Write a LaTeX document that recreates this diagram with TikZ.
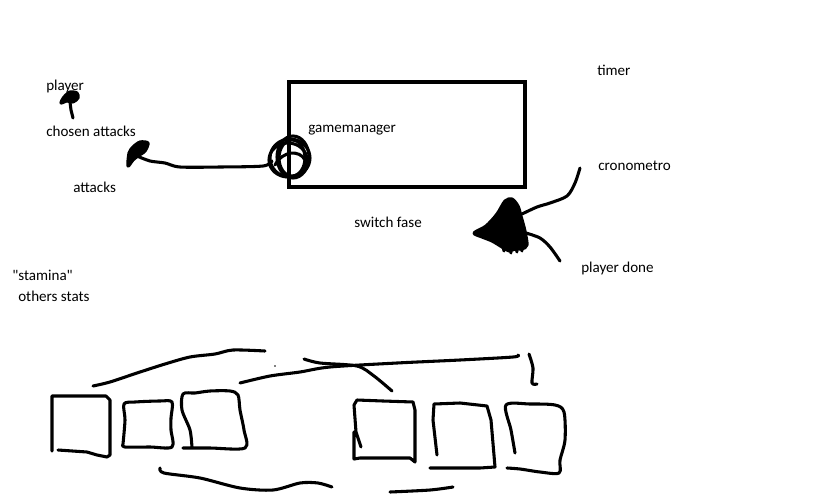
\documentclass[tikz,border=0pt]{standalone}
\usepackage{fontspec}
\setmainfont{Carlito}[Ligatures=TeXOff]
\begin{document}
\begin{tikzpicture}[x=0.75pt,y=-0.75pt,
  pen/.style={line width=2.3pt,line cap=round,line join=round},
  blob/.style={pen,fill=black},
  lbl/.style={anchor=west,inner sep=0pt,font=\fontsize{11.3}{13}\selectfont,text=black}]
\useasboundingbox (0,0) rectangle (835,493);
% labels
\node[lbl] (player) at (46,86) {player};
\node[lbl] (chosen) at (46,131) {chosen attacks};
\node[lbl] (attacks) at (73,187) {attacks};
\node[lbl] (gm) at (308,130) {gamemanager};
\node[lbl] (timer) at (597,70) {timer};
\node[lbl] (crono) at (598,166) {cronometro};
\node[lbl] (switch) at (354,222) {switch fase};
\node[lbl] (pdone) at (581,268) {player done};
\node[lbl] (stamina) at (12,275) {"stamina"};
\node[lbl] (others) at (18,296) {others stats};
% game manager box
\draw[line width=3.6pt] (289,82) rectangle (525,187);
% player arrow
\draw[blob] plot[smooth cycle] coordinates {(61,103) (64,97) (70,92) (77,93) (78,98) (73,102) (67,101)};
\draw[pen] (70,102) -- (71,110) -- (73,118);
% attacks arrow
\draw[blob] plot[smooth cycle] coordinates {(128,166) (129,153) (133,147) (140,142) (148,143) (145,151) (138,156) (133,160)};
\draw[pen] plot[smooth] coordinates {(137,156) (150,161) (165,163) (180,167) (220,167) (263,166) (272,161)};
% scribbled circle
\draw[pen] (290,158) ellipse (20 and 19);
\draw[pen] (293,157) ellipse (16 and 21);
\draw[pen] (288,160) ellipse (19 and 17);
\draw[pen] (292,158) ellipse (13 and 18);
\draw[pen] (275,165) .. controls (283,150) and (300,150) .. (305,160);
% switch blob
\draw[blob] plot[smooth cycle] coordinates {(474,233) (486,226) (497,214) (505,201) (512,199) (518,206) (521,216) (525,231) (527,245) (522,249) (515,249) (509,251) (502,247) (492,241) (482,237)};
\draw[pen] (503,246) -- (504,251);
\draw[pen] (510,248) -- (511,253);
\draw[pen] (516,247) -- (517,252);
\draw[pen] (521,246) -- (522,251);
\draw[pen] plot[smooth] coordinates {(522,214) (537,207) (550,203) (567,196) (575,183) (580,168)};
\draw[pen] plot[smooth] coordinates {(526,233) (540,238) (550,247) (560,261)};
% top curves
\draw[pen] plot[smooth] coordinates {(93,386) (110,382) (137,373) (165,364) (190,357) (215,354) (233,350) (265,351)};
\draw[pen] plot[smooth] coordinates {(240,383) (270,376) (300,372) (330,367) (397,363) (460,360) (513,357) (518,355)};
\draw[pen] plot[smooth] coordinates {(304,359) (320,363) (357,366) (374,376) (392,391)};
\draw[pen] plot[smooth] coordinates {(529,354) (533,368) (532,383) (537,384)};
\fill (275,366) circle (0.8);
% squares left group
\draw[pen] (58,450) -- (87,452) -- (97,455) -- (107,457) -- (110,455) -- (110,400) -- (106,396) -- (52,396) -- (52,451);
\draw[pen] plot[smooth] coordinates {(123,444) (125,447) (150,447) (172,447) (171,430) (171,418) (172,402) (160,401) (135,402) (124,404) (125,420) (123,444)};
\draw[pen] plot[smooth] coordinates {(183,448) (210,448) (245,448) (244,430) (240,410) (238,395) (230,391) (210,391) (195,393) (183,394) (182,410) (190,430) (192,448)};
% squares right group
\draw[pen] (361,447) -- (356,432) -- (354,405) -- (357,400) -- (383,401) -- (413,402) -- (415,410) -- (415,462) -- (410,458) -- (360,458) -- (354,459) -- (354,432);
\draw[pen] (437,455) -- (433,420) -- (434,404) -- (460,403) -- (487,406) -- (491,420) -- (495,467) -- (480,468) -- (430,468);
\draw[pen] plot[smooth] coordinates {(515,453) (511,430) (506,405) (530,404) (555,405) (564,412) (565,440) (560,460) (559,473) (540,472) (520,469) (507,468)};
% bottom curves
\draw[pen] plot[smooth] coordinates {(160,468) (164,473) (200,478) (240,488) (273,490) (300,483) (318,483) (332,487)};
\draw[pen] plot[smooth] coordinates {(390,492) (430,490) (453,487)};
\end{tikzpicture}
\end{document}
